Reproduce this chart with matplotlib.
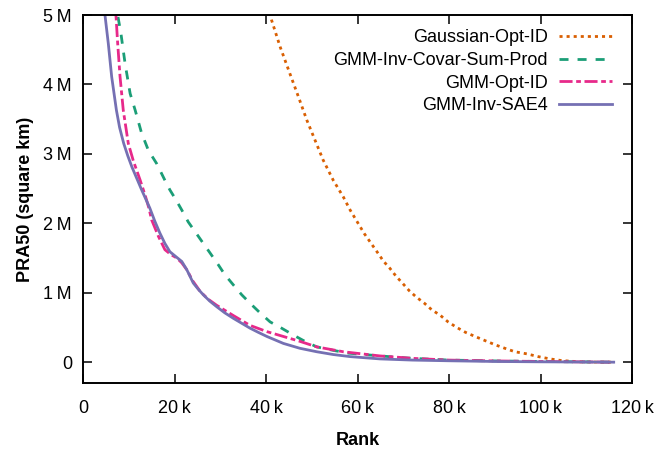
import matplotlib
matplotlib.use("Agg")
import matplotlib.pyplot as plt
from matplotlib.ticker import FuncFormatter

plt.rcParams['font.family'] = ['Liberation Sans', 'DejaVu Sans']

# rank (thousands) and PRA50 (millions of square km)
gauss_x = [40.0, 41.2, 43.1, 45.2, 47.1, 48.9, 50.7, 52.5, 54.7, 56.9, 58.4, 61.5, 64.9,
           65.6, 67.1, 68.4, 69.8, 71.3, 72.9, 74.6, 76.3, 78.0, 79.8, 81.7, 83.6, 85.7,
           87.9, 90.1, 92.2, 94.4, 97.0, 99.5, 102.1, 104.6, 108.6, 112.0, 116.0]
gauss_y = [5.25, 4.93, 4.54, 4.16, 3.82, 3.49, 3.20, 2.91, 2.62, 2.38, 2.19, 1.85, 1.53,
           1.46, 1.35, 1.24, 1.14, 1.03, 0.935, 0.85, 0.75, 0.68, 0.58, 0.50, 0.43, 0.37,
           0.31, 0.25, 0.20, 0.15, 0.12, 0.08, 0.047, 0.023, 0.005, 0.001, 0.0]

covar_x = [7.2, 7.58, 8.3, 9.2, 10.3, 11.4, 12.8, 14.3, 16.1, 17.9, 19.0, 20.3, 21.6,
           23.0, 24.6, 26.3, 27.8, 29.6, 31.0, 32.9, 34.7, 36.5, 38.7, 40.9, 43.4, 46.0,
           48.5, 51.1, 54.7, 58.0, 64.9, 72.0, 80.0, 90.0, 100.0, 116.0]
covar_y = [5.3, 5.0, 4.73, 4.30, 3.87, 3.63, 3.30, 3.05, 2.86, 2.62, 2.48, 2.34, 2.19,
           2.02, 1.87, 1.71, 1.57, 1.40, 1.26, 1.11, 0.97, 0.85, 0.71, 0.58, 0.49, 0.39,
           0.30, 0.22, 0.17, 0.13, 0.09, 0.055, 0.03, 0.018, 0.01, 0.0]

optid_x = [7.0, 7.2, 7.58, 8.1, 8.8, 9.9, 11.0, 12.5, 13.6, 14.4, 15.0, 16.5, 17.9, 19.2,
           20.5, 21.6, 22.7, 24.0, 25.6, 27.3, 29.2, 32.9, 36.5, 40.2, 43.8, 47.4, 51.1,
           56.9, 64.9, 72.0, 80.0, 90.0, 100.0, 116.0]
optid_y = [5.3, 5.0, 4.59, 4.11, 3.63, 3.15, 2.90, 2.62, 2.40, 2.22, 2.05, 1.81, 1.62, 1.55,
           1.50, 1.43, 1.33, 1.17, 1.02, 0.91, 0.82, 0.67, 0.53, 0.44, 0.37, 0.30, 0.22,
           0.15, 0.09, 0.055, 0.03, 0.018, 0.01, 0.0]

sae4_x = [4.6, 4.8, 5.53, 6.27, 7.3, 8.0, 8.9, 9.8, 10.7, 12.83, 14.6, 15.7, 16.8, 17.9, 19.0,
          20.3, 21.6, 22.7, 24.1, 25.2, 26.3, 27.7, 29.2, 31.0, 32.9, 34.7, 36.5, 38.3,
          40.2, 43.8, 47.4, 51.1, 54.7, 58.4, 64.9, 72.0, 80.0, 90.0, 100.0, 116.0]
sae4_y = [5.2, 5.0, 4.59, 4.11, 3.63, 3.38, 3.15, 2.97, 2.81, 2.48, 2.22, 2.03, 1.86, 1.71,
          1.59, 1.52, 1.45, 1.33, 1.14, 1.05, 0.97, 0.88, 0.80, 0.71, 0.63, 0.56, 0.49, 0.43,
          0.37, 0.27, 0.20, 0.15, 0.11, 0.08, 0.047, 0.03, 0.02, 0.01, 0.005, 0.0]

labels = ['Gaussian-Opt-ID', 'GMM-Inv-Covar-Sum-Prod', 'GMM-Opt-ID', 'GMM-Inv-SAE4']
colors = ['#d95f02', '#1b9e77', '#e7298a', '#7570b3']
styles = [(0, (1.1, 1.45)), (0, (3.25, 3.25)), (0, (4.7, 1.3, 1.7, 1.3)), '-']

fig = plt.figure(figsize=(6.7, 4.49), dpi=100)
ax = fig.add_axes([83 / 670, 1 - 383 / 449, 549 / 670, 368 / 449])

series = [(gauss_x, gauss_y), (covar_x, covar_y), (optid_x, optid_y), (sae4_x, sae4_y)]
for (xs, ys), lab, col, ls in zip(series, labels, colors, styles):
    ax.plot([v * 1000 for v in xs], [v * 1e6 for v in ys], color=col, linestyle=ls,
            lw=2, label=lab)

ax.set_xlim(0, 120000)
ax.set_ylim(-0.3e6, 5e6)
ax.set_xticks(range(0, 120001, 20000))
ax.set_yticks([0, 1e6, 2e6, 3e6, 4e6, 5e6])
ax.xaxis.set_major_formatter(FuncFormatter(lambda v, p: '0' if v == 0 else '%d\u2009k' % (v / 1000)))
ax.yaxis.set_major_formatter(FuncFormatter(lambda v, p: '0' if v == 0 else '%d\u2009M' % (v / 1e6)))
ax.tick_params(direction='in', length=6.5, width=1.1, top=True, right=True, labelsize=13)
ax.tick_params(axis='x', pad=12)
ax.tick_params(axis='y', pad=8)
for s in ax.spines.values():
    s.set_linewidth(1.4)

ax.set_xlabel('Rank', fontsize=13, fontweight='bold', labelpad=11)
ax.set_ylabel('PRA50 (square km)', fontsize=13, fontweight='bold', labelpad=7)

ax.legend(loc='upper right', frameon=False, markerfirst=False, fontsize=13,
          handlelength=2.94, handletextpad=0.6, labelspacing=0.31,
          bbox_to_anchor=(0.993, 1.005))

fig.savefig('out.png', dpi=100)
